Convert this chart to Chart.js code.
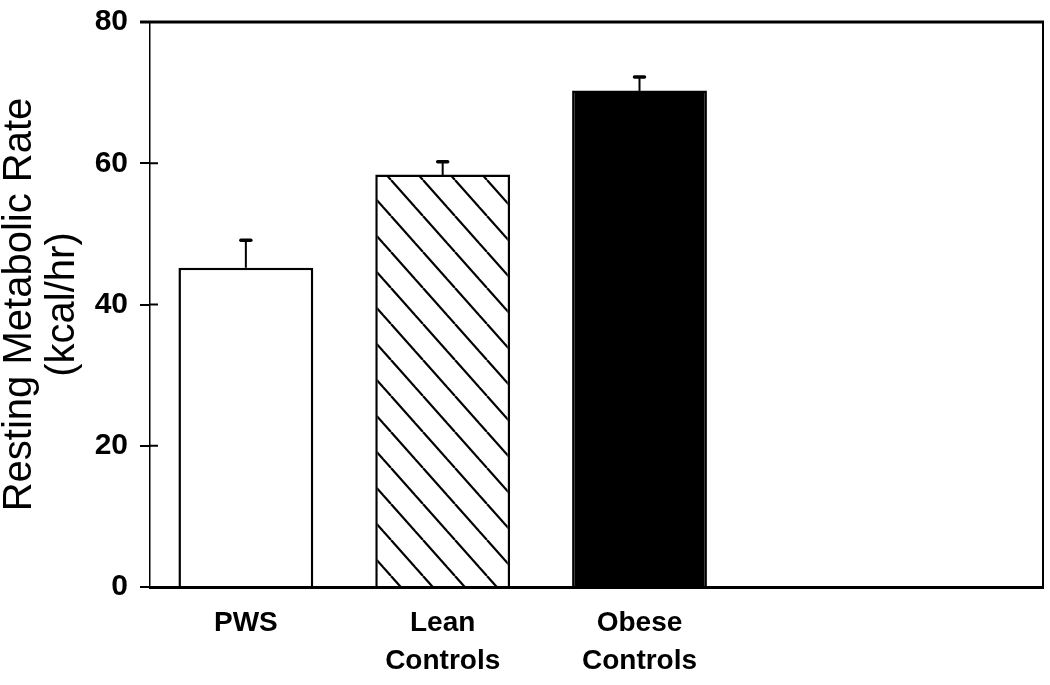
<!DOCTYPE html>
<html lang="en">
<head>
    <meta charset="UTF-8">
    <title>Resting Metabolic Rate</title>
    <script src="https://cdn.jsdelivr.net/npm/chart.js"></script>
    <style>
        body { margin: 0; background: #fff; }
        #wrap { width: 1050px; height: 685px; }
    </style>
</head>
<body>
    <div id="wrap"><canvas id="grafico"></canvas></div>

    <script>
        // data
        const groups = ['PWS', 'Lean Controls', 'Obese Controls'];
        const groupLabels = [['PWS'], ['Lean', 'Controls'], ['Obese', 'Controls']];
        const groupPos = [0, 1, 2];
        const rmr = [45.2, 58.4, 70.3];  // kcal/hr
        const rmrErr = [3.9, 1.8, 1.9];  // upper error bar
        const yTicks = [0, 20, 40, 60, 80];

        const font = "'Liberation Sans', Arial, sans-serif";

        // diagonal hatch for the lean group
        function hatch() {
            const c = document.createElement('canvas');
            c.width = 32; c.height = 36;
            const g = c.getContext('2d');
            g.fillStyle = '#fff';
            g.fillRect(0, 0, 32, 36);
            g.strokeStyle = '#000';
            g.lineWidth = 2.2;
            [-32, 0, 32].forEach(dx => {
                g.beginPath();
                g.moveTo(7 + dx, 0);
                g.lineTo(39 + dx, 36);
                g.stroke();
            });
            return g.createPattern(c, 'repeat');
        }

        const frame = {
            id: 'frame',
            afterDraw(chart) {
                const { ctx, chartArea: a } = chart;
                const y = chart.scales.y;
                ctx.save();
                ctx.strokeStyle = '#000';
                // top and right border
                ctx.lineWidth = 3;
                ctx.beginPath();
                ctx.moveTo(a.left - 10, a.top);
                ctx.lineTo(a.right + 1, a.top);
                ctx.stroke();
                ctx.lineWidth = 2;
                ctx.beginPath();
                ctx.moveTo(a.right, a.top);
                ctx.lineTo(a.right, a.bottom);
                ctx.stroke();
                // inner part of the y ticks
                ctx.lineWidth = 2;
                yTicks.slice(1, -1).forEach(v => {
                    const py = y.getPixelForValue(v);
                    ctx.beginPath();
                    ctx.moveTo(a.left, py);
                    ctx.lineTo(a.left + 8, py);
                    ctx.stroke();
                });
                ctx.restore();
            },
            afterDatasetsDraw(chart) {
                const { ctx } = chart;
                const x = chart.scales.x, y = chart.scales.y;
                ctx.save();
                ctx.strokeStyle = '#000';
                groupPos.forEach((p, i) => {
                    const px = x.getPixelForValue(p);
                    const y0 = y.getPixelForValue(rmr[i]);
                    const y1 = y.getPixelForValue(rmr[i] + rmrErr[i]);
                    ctx.lineWidth = 2;
                    ctx.beginPath();
                    ctx.moveTo(px, y0);
                    ctx.lineTo(px, y1);
                    ctx.stroke();
                    ctx.lineWidth = 3.5;
                    ctx.lineCap = 'round';
                    ctx.beginPath();
                    ctx.moveTo(px - 5, y1);
                    ctx.lineTo(px + 5, y1);
                    ctx.stroke();
                });
                ctx.restore();
            }
        };

        const ctx = document.getElementById('grafico').getContext('2d');
        new Chart(ctx, {
            type: 'bar',
            data: {
                datasets: [{
                    label: 'Resting Metabolic Rate',
                    data: groupPos.map((p, i) => ({ x: p, y: rmr[i] })),
                    backgroundColor: ['#fff', hatch(), '#000'],
                    borderColor: '#000',
                    borderWidth: 2.5,
                    categoryPercentage: 1,
                    barPercentage: 0.685
                }]
            },
            options: {
                responsive: true,
                maintainAspectRatio: false,
                animation: false,
                layout: { padding: { left: 0, top: 22, right: 7, bottom: 0 } },
                plugins: { legend: { display: false }, tooltip: { enabled: false } },
                scales: {
                    x: {
                        type: 'linear',
                        offset: false,
                        min: -0.487,
                        max: 4.05,
                        afterBuildTicks: s => { s.ticks = groupPos.map(v => ({ value: v })); },
                        afterFit: s => { s.height = 98; s.paddingLeft = 0; s.paddingRight = 0; },
                        grid: { display: false, drawTicks: false },
                        border: { display: true, width: 3, color: '#000' },
                        ticks: {
                            autoSkip: false,
                            maxRotation: 0,
                            padding: 18,
                            color: '#000',
                            font: { family: font, size: 28, weight: 'bold', lineHeight: 1.34 },
                            callback: v => groupLabels[v]
                        }
                    },
                    y: {
                        min: 0,
                        max: 80,
                        afterBuildTicks: s => { s.ticks = yTicks.map(v => ({ value: v })); },
                        afterFit: s => { s.width = 150; s.paddingTop = 0; s.paddingBottom = 0; },
                        grid: { drawOnChartArea: false, drawTicks: true, tickLength: 10, color: '#000', lineWidth: 2 },
                        border: { display: true, width: 1.5, color: '#000' },
                        ticks: {
                            padding: 12,
                            color: '#000',
                            font: { family: font, size: 30, weight: 'bold' }
                        },
                        title: {
                            display: true,
                            text: ['Resting Metabolic Rate', '(kcal/hr)'],
                            color: '#000',
                            padding: { top: -2, bottom: 0 },
                            font: { family: font, size: 40, lineHeight: 1.08 }
                        }
                    }
                }
            },
            plugins: [frame]
        });
    </script>
</body>
</html>
